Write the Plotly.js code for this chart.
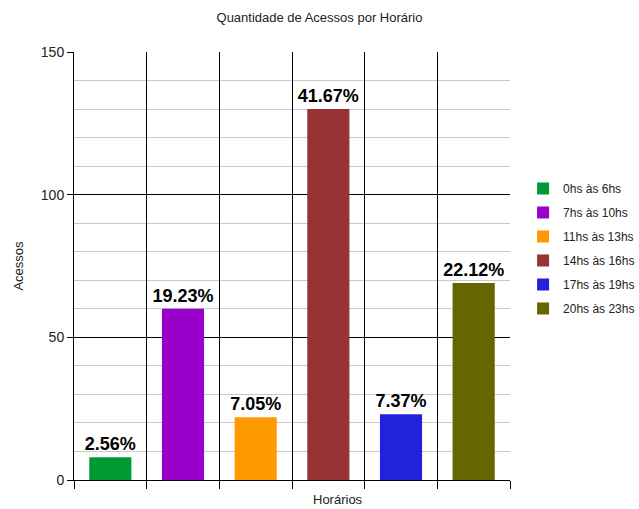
<!DOCTYPE html>
<html><head><meta charset="utf-8">
<script src="https://cdn.plot.ly/plotly-3.0.1.min.js"></script>
<style>html,body{margin:0;padding:0;background:#fff}</style>
</head><body>
<div id="chart" style="width:639px;height:509px"></div>
<script>
const categories = ["0hs às 6hs","7hs às 10hs","11hs às 13hs","14hs às 16hs","17hs às 19hs","20hs às 23hs"];
const acessos = [8, 60, 22, 130, 23, 69];
const percentLabels = ["2.56%","19.23%","7.05%","41.67%","7.37%","22.12%"];
const colors = ["#009933","#9900cc","#ff9900","#993333","#2222dd","#666600"];
const boundaries = [-0.5,0.5,1.5,2.5,3.5,4.5,5.5];

const traces = categories.map((c,i)=>({
  type:'bar', name:c, x:[i], y:[acessos[i]], width:0.58, legendgroup:'g'+i,
  marker:{color:colors[i]},
  text:[percentLabels[i]], textposition:'outside', cliponaxis:false, constraintext:'none',
  textfont:{family:'Liberation Sans, Arial, sans-serif', size:18, color:'#000', weight:'bold'},
  hoverinfo:'none'
}));

const layout = {
  width:639, height:509,
  margin:{l:74, r:129, t:52, b:29, autoexpand:false},
  paper_bgcolor:'#fff', plot_bgcolor:'#fff',
  font:{family:'Liberation Sans, Arial, sans-serif', size:13, color:'#222'},
  title:{text:'Quantidade de Acessos por Horário', x:0.5, xanchor:'center', y:0.975, yanchor:'top', font:{size:13, color:'#222'}},
  barmode:'overlay',
  showlegend:true,
  legend:{x:1.03, xanchor:'left', y:0.715, yanchor:'top', font:{size:12, color:'#222'}, tracegroupgap:5, itemwidth:30},
  annotations:[{text:'Horários', xref:'paper', yref:'paper', x:0.605, y:-0.024, xanchor:'center', yanchor:'top', showarrow:false, font:{size:13, color:'#222'}}],
  xaxis:{range:[-0.5,5.5], tickmode:'array', tickvals:boundaries, ticktext:boundaries.map(()=>''),
    showgrid:true, gridcolor:'#000', gridwidth:1, ticks:'outside', ticklen:8, tickcolor:'#000',
    showline:true, linecolor:'#000', zeroline:false, fixedrange:true},
  yaxis:{range:[0,150], tickmode:'array', tickvals:[0,50,100,150], showgrid:true, gridcolor:'#000', gridwidth:1,
    ticks:'outside', ticklen:6, tickcolor:'#000', showline:true, linecolor:'#000', zeroline:false,
    tickfont:{size:14, color:'#222'},
    minor:{dtick:10, showgrid:true, gridcolor:'#c8c8c8', gridwidth:1, ticks:''},
    title:{text:'Acessos', standoff:14, font:{size:13, color:'#222'}}}
};
Plotly.newPlot('chart', traces, layout, {displayModeBar:false, staticPlot:true});
</script>
</body></html>
